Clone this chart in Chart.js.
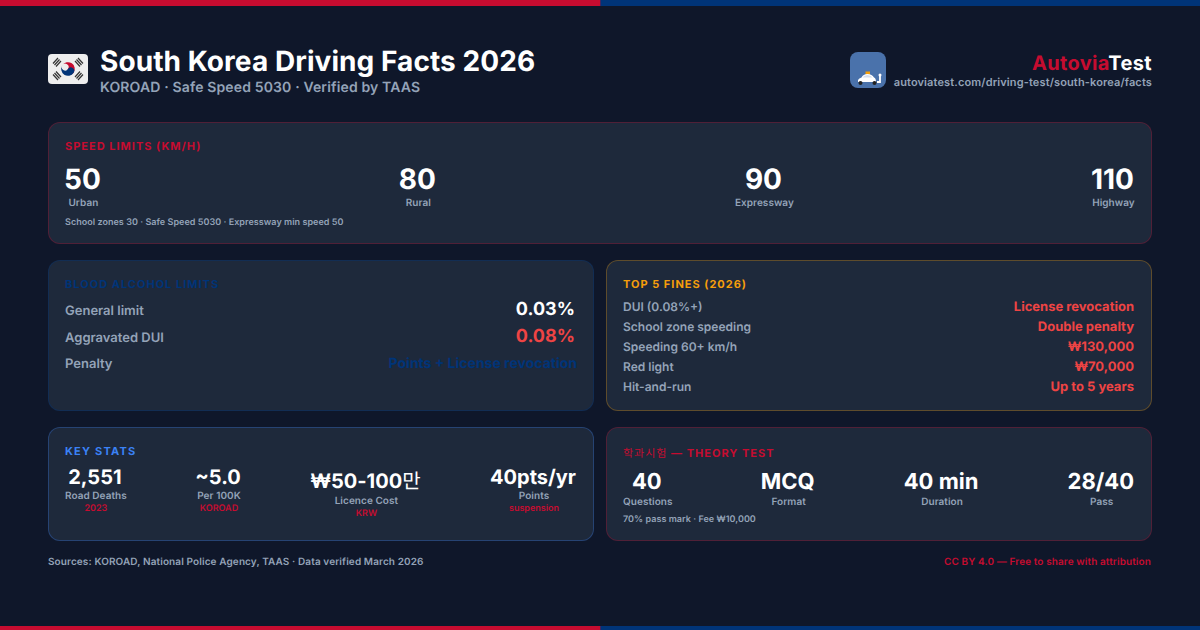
<!DOCTYPE html>
<html>
<head>
<meta charset="utf-8">
<script src="https://cdn.jsdelivr.net/npm/chart.js@4"></script>
<style>
*{box-sizing:border-box;margin:0;padding:0}
html,body{width:1200px;height:630px;overflow:hidden;background:#0f172a;font-family:Inter,"Noto Sans CJK KR",sans-serif;color:#fff;font-optical-sizing:none;text-rendering:geometricPrecision}
canvas.band{position:absolute;left:0;display:block}
.panel{position:absolute;background:#1e293b;border:1px solid;border-radius:12px;padding:16px}
.head{font-size:11px;font-weight:700;letter-spacing:1px;line-height:14px}
.stats{display:flex;justify-content:space-between}
.stat{text-align:center}
.val{font-weight:700;color:#fff;transform:translateX(-1px)}
.val i{font-style:normal;font-weight:400}
.head i{font-style:normal;font-weight:400}
.lab{color:#94a3b8;font-size:10px;font-weight:600;letter-spacing:.05px}
.sub{color:#c60c30;font-size:9px;font-weight:600;line-height:11px}
.note{color:#94a3b8;font-size:9px;font-weight:600;letter-spacing:.04px}
.row{display:flex;justify-content:space-between;align-items:baseline}
.row span:first-child{color:#94a3b8;font-weight:600}
#title{position:absolute;left:100px;top:44px;font-size:28px;font-weight:700;line-height:34px;letter-spacing:.07px}
#subtitle{position:absolute;left:100px;top:79px;font-size:14px;font-weight:600;line-height:18px;color:#94a3b8;letter-spacing:.14px}
#brand{position:absolute;right:48px;top:51px;font-size:20px;font-weight:700;line-height:24px;letter-spacing:.35px}
#url{position:absolute;right:48px;top:75px;font-size:11px;font-weight:600;line-height:14px;color:#94a3b8;letter-spacing:.13px}
#src{position:absolute;left:48px;top:555px;font-size:10px;font-weight:600;line-height:14px;color:#94a3b8;letter-spacing:.11px}
#lic{position:absolute;right:49px;top:555px;font-size:10px;font-weight:600;line-height:14px;color:#c60c30;letter-spacing:.1px}
svg{position:absolute}
</style>
</head>
<body>
<canvas class="band" id="bandTop" width="1200" height="6" style="top:0"></canvas>
<canvas class="band" id="bandBottom" width="1200" height="4" style="top:626px"></canvas>

<svg style="left:48px;top:54px" width="40" height="30" viewBox="0 0 40 30">
  <rect width="40" height="30" rx="4" fill="#eeeeee"/>
  <g transform="translate(20 15) rotate(33.7)">
    <path d="M-6.8 0A6.8 6.8 0 0 1 6.8 0A3.4 3.4 0 0 1 0 0A3.4 3.4 0 0 0 -6.8 0Z" fill="#c60c30"/>
    <path d="M-6.8 0A6.8 6.8 0 0 0 6.8 0A3.4 3.4 0 0 0 0 0A3.4 3.4 0 0 1 -6.8 0Z" fill="#003478"/>
  </g>
  <g stroke="#333" stroke-width="1.2">
    <path d="M5 9.5L10 4M6.5 11L11.5 5.5M8 12.5L13 7"/>
    <path d="M27 7L32 12.5M28.500 5.500L33.500 11M30 4L35 9.500"/>
    <path d="M5 20.500L10 26M6.500 19L11.500 24.500M8 17.500L13 23"/>
    <path d="M27 23L32 17.500M28.500 24.500L33.500 19M30 26L35 20.500"/>
  </g>
</svg>

<svg style="left:850px;top:52px" width="36" height="36" viewBox="0 0 36 36">
  <rect width="36" height="36" rx="8" fill="#4a72ab"/>
  <rect x="15.500" y="19.500" width="4.500" height="3" fill="#f59e0b"/>
  <path d="M8 30V28Q9 26 11.500 25.500Q13 22 17.500 22Q22 22 24 25.500Q26 26 26 30Z" fill="#fff"/>
  <path d="M12.500 25.500Q14 23 17.500 23Q20.500 23 22.500 25.500Z" fill="#d5deee"/>
  <circle cx="10.500" cy="31" r="2" fill="#222"/><circle cx="24.500" cy="31" r="2" fill="#222"/>
  <path d="M30 23V30H27" stroke="#fff" stroke-width="1.800" fill="none"/>
  <circle cx="30" cy="23" r="1.500" fill="#fff"/>
</svg>

<div id="title">South Korea Driving Facts 2026</div>
<div id="subtitle">KOROAD · Safe Speed 5030 · Verified by TAAS</div>
<div id="brand"><span style="color:#c60c30">Autovia</span>Test</div>
<div id="url">autoviatest.com/driving-test/south-korea/facts</div>

<div class="panel" style="left:48px;top:122px;width:1104px;height:122px;border-color:rgba(198,12,48,.3)">
  <div class="head" style="color:#c60c30;margin-bottom:9px">SPEED LIMITS (KM/H)</div>
  <div class="stats" id="speedStats"></div>
  <div class="note" id="speedNote" style="margin-top:8px"></div>
</div>

<div class="panel" style="left:48px;top:260px;width:546px;height:151px;border-color:rgba(0,52,120,.4)">
  <div class="head" style="color:#003478;margin-bottom:5px">BLOOD ALCOHOL LIMITS</div>
  <div id="alcoholRows"></div>
</div>

<div class="panel" style="left:606px;top:260px;width:546px;height:151px;border-color:rgba(245,158,11,.3)">
  <div class="head" style="color:#f59e0b;margin-bottom:6px">TOP 5 FINES (2026)</div>
  <div id="fineRows"></div>
</div>

<div class="panel" style="left:48px;top:427px;width:546px;height:114px;border-color:rgba(59,130,246,.3)">
  <div class="head" style="color:#3b82f6;margin-bottom:7px;letter-spacing:1.2px">KEY STATS</div>
  <div class="stats" id="keyStats"></div>
</div>

<div class="panel" style="left:606px;top:427px;width:546px;height:114px;border-color:rgba(198,12,48,.3)">
  <div class="head" style="color:#c60c30;margin-bottom:9px;padding-top:2px"><i>학과시험</i> — THEORY TEST</div>
  <div class="stats" id="theoryStats"></div>
  <div class="note" id="theoryNote" style="margin-top:6px"></div>
</div>

<div id="src">Sources: KOROAD, National Police Agency, TAAS · Data verified March 2026</div>
<div id="lic">CC BY 4.0 — Free to share with attribution</div>

<script>
// top/bottom stripe, half flag red half flag blue
var stripeLabels=['Red','Blue']
var stripeShares=[50,50]
var stripeColors=['#c60c30','#003478']

var speedValues=['50','80','90','110']
var speedLabels=['Urban','Rural','Expressway','Highway']
var speedNote='School zones 30 · Safe Speed 5030 · Expressway min speed 50'

var alcoholLabels=['General limit','Aggravated DUI','Penalty']
var alcoholValues=['0.03%','0.08%','Points + License revocation']

var fineLabels=['DUI (0.08%+)','School zone speeding','Speeding 60+ km/h','Red light','Hit-and-run']
var fineValues=['License revocation','Double penalty','₩130,000','₩70,000','Up to 5 years']

var keyValues=['2,551','~5.0','₩50-100만','40pts/yr']
var keyLabels=['Road Deaths','Per 100K','Licence Cost','Points']
var keySubs=['2023','KOROAD','KRW','suspension']

var theoryValues=['40','MCQ','40 min','28/40']
var theoryLabels=['Questions','Format','Duration','Pass']
var theoryNote='70% pass mark · Fee ₩10,000'

function stripe(id){
  new Chart(document.getElementById(id).getContext('2d'),{
    type:'bar',
    data:{
      labels:[''],
      datasets:stripeLabels.map(function(name,i){
        return {label:name,data:[stripeShares[i]],backgroundColor:stripeColors[i],borderWidth:0,barPercentage:1,categoryPercentage:1}
      })
    },
    options:{
      indexAxis:'y',
      responsive:false,
      animation:false,
      layout:{padding:0},
      plugins:{legend:{display:false},tooltip:{enabled:false}},
      scales:{
        x:{stacked:true,display:false,min:0,max:100},
        y:{stacked:true,display:false}
      }
    }
  })
}
stripe('bandTop')
stripe('bandBottom')

function statRow(id,values,labels,subs,valSize,labTop,subTop){
  var html=''
  for(var i=0;i<values.length;i++){
    // hangul falls back to a thin face in the original
    var shown=values[i].replace(/[가-힣]+/g,'<i>$&</i>')
    html+='<div class="stat"><div class="val" style="font-size:'+valSize+'px">'+shown+'</div>'
    html+='<div class="lab" style="margin-top:'+labTop+'px">'+labels[i]+'</div>'
    if(subs) html+='<div class="sub" style="margin-top:'+subTop+'px">'+subs[i]+'</div>'
    html+='</div>'
  }
  document.getElementById(id).innerHTML=html
}
statRow('speedStats',speedValues,speedLabels,null,28,1,0)
statRow('keyStats',keyValues,keyLabels,keySubs,20,1,1)
statRow('theoryStats',theoryValues,theoryLabels,null,22,1,0)
document.getElementById('speedNote').textContent=speedNote
document.getElementById('theoryNote').textContent=theoryNote

var alcoholStyles=['font-size:18px;font-weight:700;color:#fff;margin-right:2px','font-size:18px;font-weight:700;color:#ef4444;margin-right:2px','font-size:14px;font-weight:700;color:#003478']
var alcoholHtml=''
for(var a=0;a<alcoholLabels.length;a++){
  alcoholHtml+='<div class="row" style="height:27px;line-height:27px"><span style="font-size:13px">'+alcoholLabels[a]+'</span><span style="'+alcoholStyles[a]+'">'+alcoholValues[a]+'</span></div>'
}
document.getElementById('alcoholRows').innerHTML=alcoholHtml

var fineHtml=''
for(var f=0;f<fineLabels.length;f++){
  fineHtml+='<div class="row" style="height:20px;line-height:20px"><span style="font-size:12px">'+fineLabels[f]+'</span><span style="font-size:13px;font-weight:700;color:#ef4444;margin-right:1px">'+fineValues[f]+'</span></div>'
}
document.getElementById('fineRows').innerHTML=fineHtml
</script>
</body>
</html>
